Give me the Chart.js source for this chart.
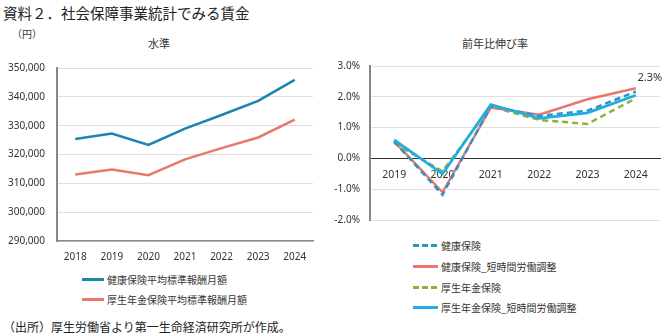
<!DOCTYPE html>
<html lang="ja">
<head>
<meta charset="utf-8">
<script src="https://cdn.jsdelivr.net/npm/chart.js@4.4.1/dist/chart.umd.min.js"></script>
<style>
  body { margin: 0; background: #fff; font-family: "Noto Sans CJK JP", "Noto Sans", sans-serif; color: #222; }
  #wrap { position: relative; width: 667px; height: 336px; overflow: hidden; }
  .txt { position: absolute; white-space: nowrap; }
  .leg { position: absolute; font-size: 10px; color: #333; display: flex; align-items: center; white-space: nowrap; }
  .swatch { display: inline-block; width: 22px; height: 3px; margin-right: 3px; }
</style>
</head>
<body>
<div id="wrap">
  <div class="txt" style="left:3px;top:2px;font-size:14.5px;">資料２．社会保障事業統計でみる賃金</div>
  <div class="txt" style="left:12px;top:26px;font-size:10px;color:#333;">（円）</div>
  <div class="txt" style="left:148px;top:35px;font-size:11px;color:#333;">水準</div>
  <div class="txt" style="left:462px;top:35px;font-size:11px;color:#333;">前年比伸び率</div>

  <canvas id="levelChart" style="position:absolute;left:0;top:50px;"></canvas>
  <canvas id="growthChart" style="position:absolute;left:330px;top:50px;"></canvas>

  <div class="txt" style="left:3px;top:318px;font-size:12px;">（出所）厚生労働省より第一生命経済研究所が作成。</div>
</div>

<script>
// Level chart data (円)
const levelYears = ['2018', '2019', '2020', '2021', '2022', '2023', '2024'];
const kenpoLevel = [325400, 327300, 323300, 329000, 333700, 338600, 345900];
const kouseiLevel = [313100, 314800, 312800, 318300, 322200, 325900, 332100];
const levelTicks = [290000, 300000, 310000, 320000, 330000, 340000, 350000];

// Growth chart data (%)
const growthYears = ['2019', '2020', '2021', '2022', '2023', '2024'];
const kenpoGrowth = [0.55, -1.18, 1.70, 1.38, 1.55, 2.17];
const kenpoAdjGrowth = [0.55, -1.10, 1.65, 1.42, 1.92, 2.28];
const kouseiGrowth = [0.50, -0.42, 1.68, 1.25, 1.12, 1.95];
const kouseiAdjGrowth = [0.60, -0.50, 1.75, 1.30, 1.48, 2.05];
const growthTicks = [-2, -1, 0, 1, 2, 3];

const BLUE = '#1a86ad';
const SALMON = '#e8786f';
const DASH_BLUE = '#2b93c9';
const GREEN = '#8cb236';
const CYAN = '#1eaee0';

const tickFont = { family: 'Noto Sans', size: 10 };

// 水準
const levelCtx = document.getElementById('levelChart');
levelCtx.width = 330;
levelCtx.height = 215;
new Chart(levelCtx, {
    type: 'line',
    data: {
        labels: levelYears,
        datasets: [{
            label: '健康保険平均標準報酬月額',
            data: kenpoLevel,
            borderColor: BLUE,
            borderWidth: 2.5,
            pointRadius: 0
        }, {
            label: '厚生年金保険平均標準報酬月額',
            data: kouseiLevel,
            borderColor: SALMON,
            borderWidth: 2.5,
            pointRadius: 0
        }]
    },
    options: {
        responsive: false,
        animation: false,
        layout: { padding: { top: 12, right: 17, left: 0, bottom: 0 } },
        plugins: { legend: { display: false }, tooltip: { enabled: false } },
        scales: {
            x: {
                offset: true,
                grid: { display: false, drawTicks: false },
                border: { color: '#888', width: 1.5 },
                ticks: { padding: 10, color: '#333', font: tickFont },
                afterFit: s => { s.height = 24; }
            },
            y: {
                min: levelTicks[0],
                max: levelTicks[levelTicks.length - 1],
                afterBuildTicks: s => { s.ticks = levelTicks.map(v => ({ value: v })); },
                grid: { color: '#e0e0e0', drawTicks: false },
                border: { color: '#888', width: 2 },
                ticks: {
                    padding: 12,
                    color: '#333',
                    font: tickFont,
                    callback: v => v.toLocaleString('en-US')
                },
                afterFit: s => { s.width = 57; }
            }
        }
    }
});

// 前年比伸び率
const labelPlugin = {
    id: 'lastLabel',
    afterDatasetsDraw(chart) {
        const meta = chart.getDatasetMeta(1);
        const pt = meta.data[meta.data.length - 1];
        const ctx = chart.ctx;
        ctx.save();
        ctx.font = '11px "Noto Sans"';
        ctx.fillStyle = '#333';
        ctx.textAlign = 'center';
        ctx.textBaseline = 'middle';
        ctx.fillText(kenpoAdjGrowth[kenpoAdjGrowth.length - 1].toFixed(1) + '%', pt.x + 14, pt.y - 10);
        ctx.restore();
    }
};

const growthCtx = document.getElementById('growthChart');
growthCtx.width = 337;
growthCtx.height = 186;
new Chart(growthCtx, {
    type: 'line',
    data: {
        labels: growthYears,
        datasets: [{
            label: '厚生年金保険_短時間労働調整',
            data: kouseiAdjGrowth,
            borderColor: CYAN,
            borderWidth: 2.8,
            pointRadius: 0,
            order: 0
        }, {
            label: '健康保険_短時間労働調整',
            data: kenpoAdjGrowth,
            borderColor: SALMON,
            borderWidth: 2.5,
            pointRadius: 0,
            order: 2
        }, {
            label: '健康保険',
            data: kenpoGrowth,
            borderColor: DASH_BLUE,
            borderWidth: 2.5,
            borderDash: [6, 4],
            pointRadius: 0,
            order: 1
        }, {
            label: '厚生年金保険',
            data: kouseiGrowth,
            borderColor: GREEN,
            borderWidth: 2.5,
            borderDash: [6, 4],
            pointRadius: 0,
            order: 3
        }]
    },
    options: {
        responsive: false,
        animation: false,
        layout: { padding: { top: 15, right: 7, left: 0, bottom: 6 } },
        plugins: { legend: { display: false }, tooltip: { enabled: false } },
        scales: {
            x: {
                position: { y: 0 },
                offset: true,
                grid: { display: false, drawTicks: false },
                border: { color: '#333', width: 1 },
                ticks: { padding: 10, color: '#333', font: { family: 'Noto Sans', size: 10.5 } }
            },
            y: {
                min: growthTicks[0],
                max: growthTicks[growthTicks.length - 1],
                afterBuildTicks: s => { s.ticks = growthTicks.map(v => ({ value: v })); },
                grid: { color: '#e0e0e0', drawTicks: false },
                border: { color: '#888', width: 2 },
                ticks: {
                    padding: 10,
                    color: '#333',
                    font: tickFont,
                    callback: v => v.toFixed(1) + '%'
                },
                afterFit: s => { s.width = 40; }
            }
        }
    },
    plugins: [labelPlugin]
});

// Legends
function swatchStyle(color, dashed) {
    if (dashed) {
        return `background: repeating-linear-gradient(to right, ${color} 0 6px, transparent 6px 9px);`;
    }
    return `background:${color};`;
}

const levelLegendItems = [
    { text: '健康保険平均標準報酬月額', color: BLUE, dashed: false, top: 272 },
    { text: '厚生年金保険平均標準報酬月額', color: SALMON, dashed: false, top: 292 }
];
const growthLegendItems = [
    { text: '健康保険', color: DASH_BLUE, dashed: true, top: 238 },
    { text: '健康保険_短時間労働調整', color: SALMON, dashed: false, top: 259 },
    { text: '厚生年金保険', color: GREEN, dashed: true, top: 280 },
    { text: '厚生年金保険_短時間労働調整', color: CYAN, dashed: false, top: 300 }
];

const wrap = document.getElementById('wrap');
levelLegendItems.forEach(item => {
    const d = document.createElement('div');
    d.className = 'leg';
    d.style.left = '82px';
    d.style.top = item.top + 'px';
    d.innerHTML = `<span class="swatch" style="${swatchStyle(item.color, item.dashed)}"></span>${item.text}`;
    wrap.appendChild(d);
});
growthLegendItems.forEach(item => {
    const d = document.createElement('div');
    d.className = 'leg';
    d.style.left = '413px';
    d.style.top = item.top + 'px';
    d.innerHTML = `<span class="swatch" style="width:25px;${swatchStyle(item.color, item.dashed)}"></span>${item.text}`;
    wrap.appendChild(d);
});
</script>
</body>
</html>
